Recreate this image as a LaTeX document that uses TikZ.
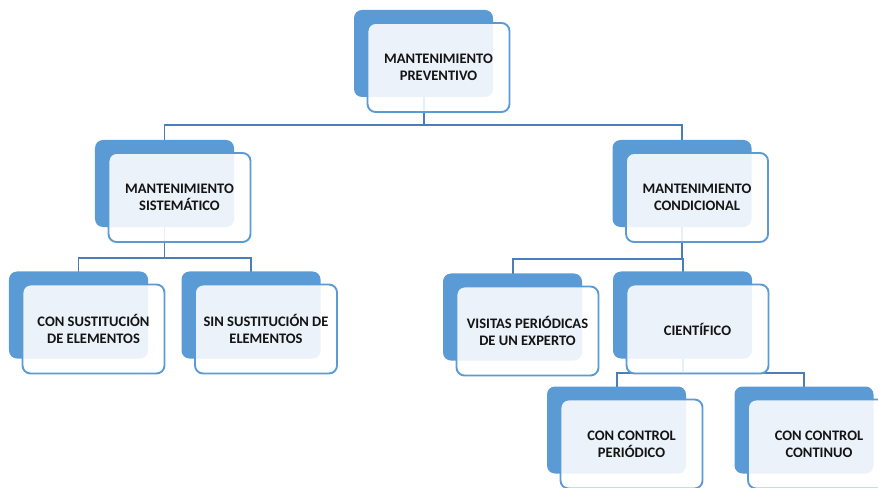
\documentclass[tikz,border=0pt]{standalone}
\usepackage{fontspec}
\setmainfont{Carlito}
\usetikzlibrary{calc,backgrounds}
\definecolor{boxblue}{HTML}{5B9BD5}
\definecolor{lineblue}{HTML}{4A7EBB}
\definecolor{textdark}{HTML}{141414}
\tikzset{
 backbox/.style={fill=boxblue, rounded corners=0.24cm, minimum width=4.17cm, minimum height=2.61cm, inner sep=0},
 frontbox/.style={draw=boxblue, line width=1.6pt, fill=white, fill opacity=0.88, text opacity=1, draw opacity=1,
   rounded corners=0.24cm, minimum width=4.26cm, minimum height=2.67cm, inner sep=0, align=center,
   text=textdark, font=\bfseries\fontsize{12.4}{14.8}\selectfont},
 conn/.style={lineblue, line width=1.7pt}
}
\begin{document}
\begin{tikzpicture}[x=0.03cm, y=-0.03cm]
\useasboundingbox (0,0) rectangle (878,488);
\clip (0,0) rectangle (878,488);
% level 1
\node[backbox] (prevB) at (423.5,53.5) {};
\node[frontbox] (prevF) at ([shift={(15,14)}]prevB.center) {MANTENIMIENTO\\PREVENTIVO};
% level 2
\node[backbox] (sisB) at (164.5,183.5) {};
\node[frontbox] (sisF) at ([shift={(15,14)}]sisB.center) {MANTENIMIENTO\\SISTEMÁTICO};
\node[backbox] (condB) at (682,183.5) {};
\node[frontbox] (condF) at ([shift={(15,14)}]condB.center) {MANTENIMIENTO\\CONDICIONAL};
% level 3
\node[backbox] (conB) at (78.5,315) {};
\node[frontbox] (conF) at ([shift={(15,14)}]conB.center) {CON SUSTITUCIÓN\\DE ELEMENTOS};
\node[backbox] (sinB) at (251,315) {};
\node[frontbox] (sinF) at ([shift={(15,14)}]sinB.center) {SIN SUSTITUCIÓN DE\\ELEMENTOS};
\node[backbox] (visB) at (512.5,317) {};
\node[frontbox] (visF) at ([shift={(15,14)}]visB.center) {VISITAS PERIÓDICAS\\DE UN EXPERTO};
\node[backbox] (cieB) at (682.5,315) {};
\node[frontbox] (cieF) at ([shift={(15,14)}]cieB.center) {CIENTÍFICO};
% level 4
\node[backbox] (perB) at (616.5,430) {};
\node[frontbox] (perF) at ([shift={(15,14)}]perB.center) {CON CONTROL\\PERIÓDICO};
\node[backbox] (contB) at (804,430) {};
\node[frontbox] (contF) at ([shift={(15,14)}]contB.center) {CON CONTROL\\CONTINUO};
% bus lines
\coordinate (busA) at (0,125);
\coordinate (busB) at (0,258);
\coordinate (busC) at (0,259);
\coordinate (busD) at (0,373);
\begin{pgfonlayer}{background}
\draw[conn] (prevB.center) -- (prevB.center |- busA) -| (sisB.center);
\draw[conn] (prevB.center |- busA) -| (condB.center);
\draw[conn] (sisB.center) -- (sisB.center |- busB) -| (conB.center);
\draw[conn] (sisB.center |- busB) -| (sinB.center);
\draw[conn] (condB.center) -- (condB.center |- busC) -| (visB.center);
\draw[conn] (condB.center |- busC) -| (cieB.center);
\draw[conn] (cieB.center) -- (cieB.center |- busD) -| (perB.center);
\draw[conn] (cieB.center |- busD) -| (contB.center);
\end{pgfonlayer}
\end{tikzpicture}
\end{document}
